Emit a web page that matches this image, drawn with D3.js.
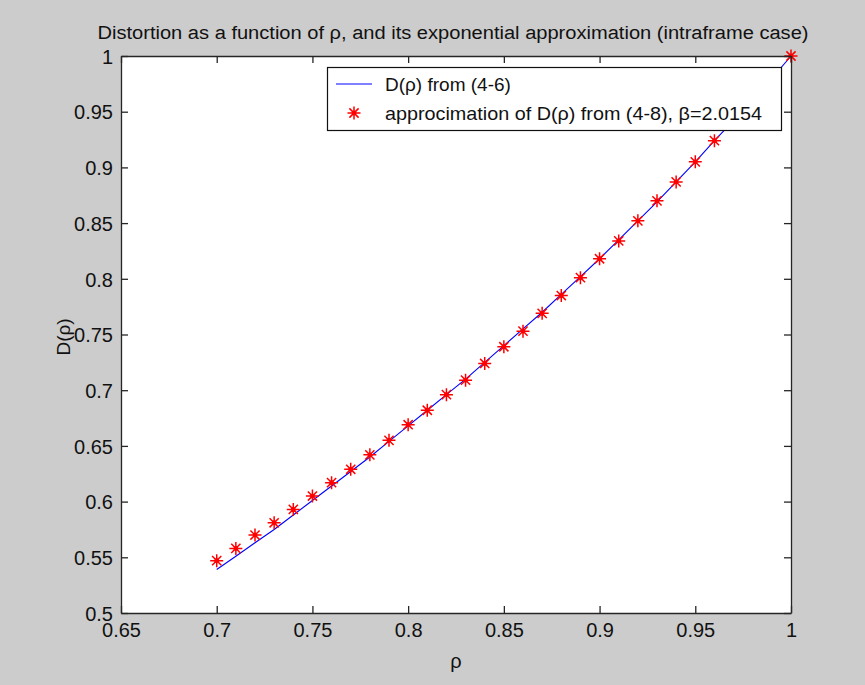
<!DOCTYPE html>
<html><head><meta charset="utf-8">
<script src="https://cdn.jsdelivr.net/npm/d3@7"></script>
<style>html,body{margin:0;padding:0;background:#cccccc;}svg{display:block;}</style>
</head><body>
<script>
const rho = [0.70,0.71,0.72,0.73,0.74,0.75,0.76,0.77,0.78,0.79,0.80,0.81,0.82,0.83,0.84,0.85,0.86,0.87,0.88,0.89,0.90,0.91,0.92,0.93,0.94,0.95,0.96,0.97,0.98,0.99,1.00];
const dExact = [0.539,0.551,0.563,0.575,0.588,0.601,0.614,0.627,0.640,0.654,0.668,0.682,0.696,0.710,0.725,0.740,0.755,0.770,0.786,0.802,0.818,0.835,0.852,0.869,0.887,0.905,0.924,0.942,0.961,0.980,1.000];
const dApprox = [0.547,0.558,0.570,0.581,0.593,0.605,0.617,0.629,0.642,0.655,0.669,0.682,0.696,0.709,0.724,0.739,0.753,0.769,0.785,0.801,0.818,0.834,0.852,0.870,0.887,0.905,0.924,0.942,0.961,0.980,1.000];
const xTicks = [0.65,0.7,0.75,0.8,0.85,0.9,0.95,1];
const yTicks = [0.5,0.55,0.6,0.65,0.7,0.75,0.8,0.85,0.9,0.95,1];
const xTickLabels = ["0.65","0.7","0.75","0.8","0.85","0.9","0.95","1"];
const yTickLabels = ["0.5","0.55","0.6","0.65","0.7","0.75","0.8","0.85","0.9","0.95","1"];
const titleText = "Distortion as a function of \u03c1, and its exponential approximation (intraframe case)";
const legendLabels = ["D(\u03c1) from (4-6)", "approcimation of D(\u03c1) from (4-8), \u03b2=2.0154"];

const W = 865, H = 685;
const L = 121, R = 791, T = 56, B = 613;
const font = "'Liberation Sans', Arial, sans-serif";
const axisColor = "#262626";

const svg = d3.select("body").append("svg").attr("width", W).attr("height", H);
svg.append("rect").attr("width", W).attr("height", H).attr("fill", "#cccccc");
svg.append("rect").attr("x", L).attr("y", T).attr("width", R - L).attr("height", B - T).attr("fill", "#ffffff");

const x = d3.scaleLinear().domain([0.65, 1]).range([L, R]);
const y = d3.scaleLinear().domain([0.5, 1]).range([B, T]);

// blue line
const line = d3.line().x((d, i) => x(rho[i])).y(d => y(d));
svg.append("path").datum(dExact).attr("d", line).attr("fill", "none").attr("stroke", "#0000ff").attr("stroke-width", 1.1);

// asterisk marker
function star(g, cx, cy) {
  const a = 6.5, b = 4.6;
  g.append("path")
    .attr("d", `M${cx-a},${cy}H${cx+a}M${cx},${cy-a}V${cy+a}M${cx-b},${cy-b}L${cx+b},${cy+b}M${cx-b},${cy+b}L${cx+b},${cy-b}`)
    .attr("stroke", "#ff0000").attr("stroke-width", 1.5).attr("fill", "none");
  g.append("circle").attr("cx", cx).attr("cy", cy).attr("r", 2.4).attr("fill", "#ff0000");
}
const sg = svg.append("g");
dApprox.forEach((d, i) => star(sg, x(rho[i]), y(d)));

// axes
function styleAxis(g) {
  g.selectAll("path.domain").attr("stroke", axisColor).attr("stroke-width", 1.3);
  g.selectAll(".tick line").attr("stroke", axisColor).attr("stroke-width", 1.3);
  g.selectAll("text").attr("font-family", font).attr("font-size", 20).attr("fill", "#111");
}
const gx = svg.append("g").attr("transform", `translate(0,${B})`)
  .call(d3.axisBottom(x).tickValues(xTicks).tickFormat((d, i) => xTickLabels[i]).tickSizeInner(-7).tickSizeOuter(0).tickPadding(10));
styleAxis(gx);
const gy = svg.append("g").attr("transform", `translate(${L},0)`)
  .call(d3.axisLeft(y).tickValues(yTicks).tickFormat((d, i) => yTickLabels[i]).tickSizeInner(-7).tickSizeOuter(0).tickPadding(8));
styleAxis(gy);
gy.selectAll("text").attr("dy", "0.36em");
const gt = svg.append("g").attr("transform", `translate(0,${T})`)
  .call(d3.axisTop(x).tickValues(xTicks).tickFormat("").tickSizeInner(-7).tickSizeOuter(0));
styleAxis(gt);
const gr = svg.append("g").attr("transform", `translate(${R},0)`)
  .call(d3.axisRight(y).tickValues(yTicks).tickFormat("").tickSizeInner(-7).tickSizeOuter(0));
styleAxis(gr);

// title and labels
svg.append("text").attr("x", 453).attr("y", 39).attr("text-anchor", "middle")
  .attr("font-family", font).attr("font-size", 18).attr("fill", "#111")
  .attr("textLength", 711).attr("lengthAdjust", "spacingAndGlyphs").text(titleText);
svg.append("text").attr("x", 456).attr("y", 668).attr("text-anchor", "middle")
  .attr("font-family", font).attr("font-size", 20).attr("fill", "#111").text("\u03c1");
svg.append("text").attr("transform", "translate(70,337) rotate(-90)").attr("text-anchor", "middle")
  .attr("font-family", font).attr("font-size", 19).attr("fill", "#111").text("D(\u03c1)");

// legend
const lg = svg.append("g");
lg.append("rect").attr("x", 327.5).attr("y", 67.5).attr("width", 454).attr("height", 63)
  .attr("fill", "#ffffff").attr("stroke", "#111").attr("stroke-width", 1.2);
lg.append("line").attr("x1", 336).attr("x2", 372).attr("y1", 84).attr("y2", 84).attr("stroke", "#0000ff").attr("stroke-width", 1.1);
star(lg, 354, 113);
lg.append("text").attr("x", 385).attr("y", 91).attr("font-family", font).attr("font-size", 19).attr("fill", "#111").text(legendLabels[0]);
lg.append("text").attr("x", 385).attr("y", 120).attr("font-family", font).attr("font-size", 19).attr("fill", "#111")
  .attr("textLength", 377).attr("lengthAdjust", "spacingAndGlyphs").text(legendLabels[1]);
</script>
</body></html>
